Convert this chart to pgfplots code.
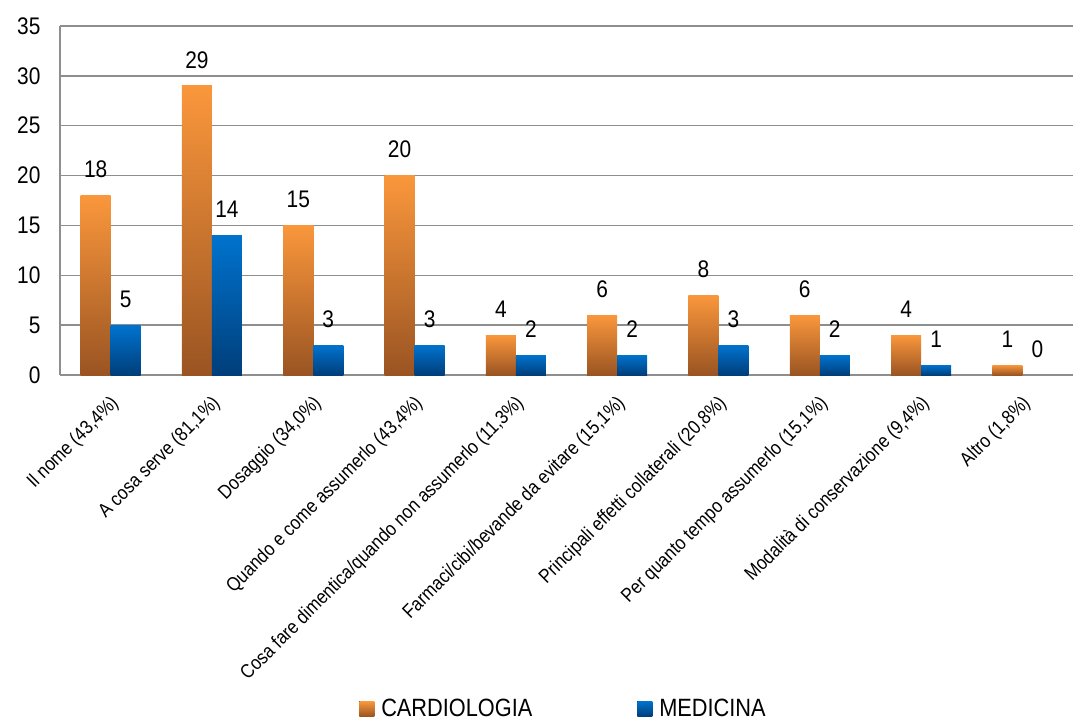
\documentclass[border=0pt]{standalone}
\usepackage{fontspec}
\setmainfont[FakeStretch=0.87]{Liberation Sans}
\usepackage{pgfplots}
\pgfplotsset{compat=1.18}

\definecolor{orTop}{HTML}{FA973C}
\definecolor{orBot}{HTML}{9A5422}
\definecolor{blTop}{HTML}{0073CE}
\definecolor{blBot}{HTML}{003E7A}
\definecolor{gridgray}{HTML}{8E8E8E}

% each bar is its own plot so that every bar gets its own gradient
\pgfplotsset{
  cardio/.style={draw=none, top color=orTop, bottom color=orBot, shading=axis, bar shift=-15pt},
  medic/.style={draw=none, top color=blTop, bottom color=blBot, shading=axis, bar shift=15pt},
}

\begin{document}
\begin{tikzpicture}
\path[use as bounding box] (-60pt,-345pt) rectangle (1013pt,375pt);
\begin{axis}[
  at={(0pt,0pt)}, anchor=south west,
  scale only axis,
  width=1013pt, height=349pt,
  ybar=0pt, bar width=30pt,
  xmin=-0.5, xmax=9.5,
  ymin=0, ymax=35,
  ytick={0,5,...,35},
  xtick={0,...,9},
  xticklabels={
    {Il nome (43,4\%)},
    {A cosa serve (81,1\%)},
    {Dosaggio (34,0\%)},
    {Quando e come assumerlo (43,4\%)},
    {Cosa fare dimentica/quando non assumerlo (11,3\%)},
    {Farmaci/cibi/bevande da evitare (15,1\%)},
    {Principali effetti collaterali (20,8\%)},
    {Per quanto tempo assumerlo (15,1\%)},
    {Modalità di conservazione (9,4\%)},
    {Altro (1,8\%)}},
  x tick label style={rotate=45, anchor=north east, font=\fontsize{19.5}{24}\selectfont, xshift=-11pt, yshift=-9pt},
  y tick label style={font=\fontsize{24}{28}\selectfont, xshift=-16pt},
  /pgf/number format/assume math mode=true,
  major tick length=0pt,
  axis x line*=bottom, axis y line*=left,
  axis line style={draw=gridgray, line width=1.5pt, -},
  ymajorgrids,
  grid style={draw=gridgray, line width=1.5pt},
  nodes near coords,
  every node near coord/.append style={font=\fontsize{24}{28}\selectfont, text=black, yshift=14pt},
  legend style={at={(0.497,-0.955)}, anchor=center, draw=none, fill=none,
    legend columns=2, font=\fontsize{25}{30}\selectfont,
    /tikz/every even column/.append style={column sep=103pt}},
  legend image code/.code={\fill[#1] (0pt,-8pt) rectangle (15pt,7pt); \path (0pt,0pt) -- (20pt,0pt);},
]
\addplot[cardio] coordinates {(0,18)};
\addplot[medic]  coordinates {(0,5)};
\legend{CARDIOLOGIA, MEDICINA}
\addplot[cardio, forget plot] coordinates {(1,29)};
\addplot[cardio, forget plot] coordinates {(2,15)};
\addplot[cardio, forget plot] coordinates {(3,20)};
\addplot[cardio, forget plot] coordinates {(4,4)};
\addplot[cardio, forget plot] coordinates {(5,6)};
\addplot[cardio, forget plot] coordinates {(6,8)};
\addplot[cardio, forget plot] coordinates {(7,6)};
\addplot[cardio, forget plot] coordinates {(8,4)};
\addplot[cardio, forget plot] coordinates {(9,1)};
\addplot[medic, forget plot] coordinates {(1,14)};
\addplot[medic, forget plot] coordinates {(2,3)};
\addplot[medic, forget plot] coordinates {(3,3)};
\addplot[medic, forget plot] coordinates {(4,2)};
\addplot[medic, forget plot] coordinates {(5,2)};
\addplot[medic, forget plot] coordinates {(6,3)};
\addplot[medic, forget plot] coordinates {(7,2)};
\addplot[medic, forget plot] coordinates {(8,1)};
\addplot[medic, forget plot] coordinates {(9,0)};
\end{axis}
\end{tikzpicture}
\end{document}
